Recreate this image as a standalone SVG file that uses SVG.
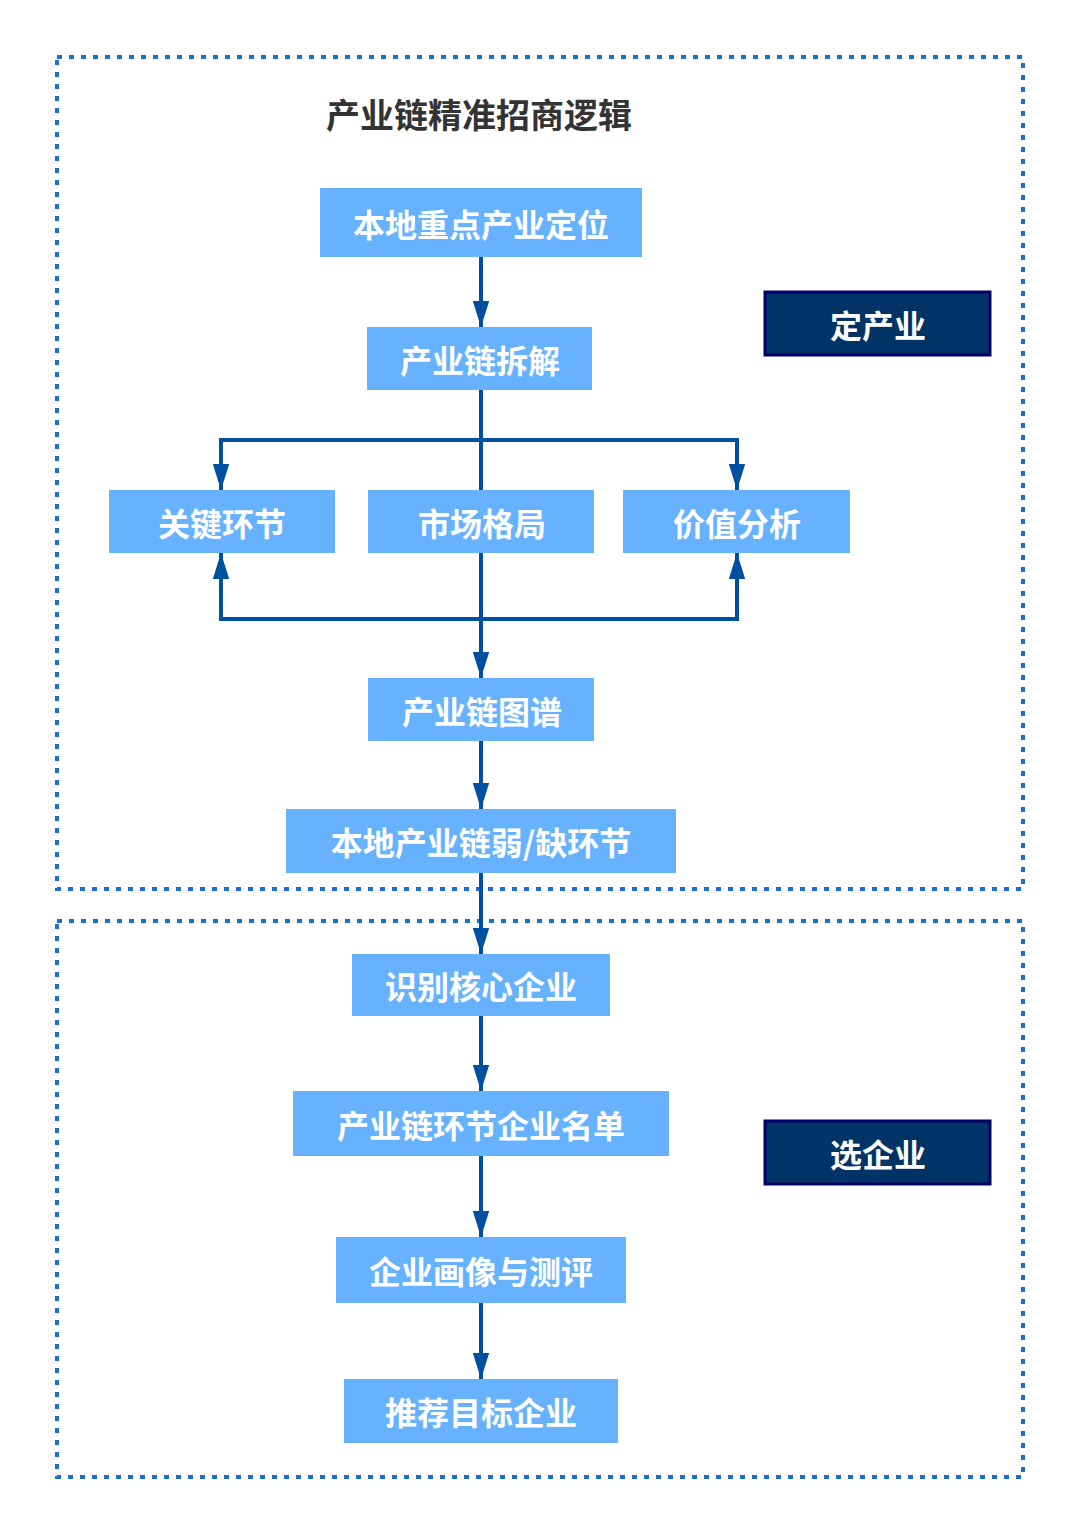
<svg xmlns="http://www.w3.org/2000/svg" width="1080" height="1533" viewBox="0 0 1080 1533">
<style>
.frame{fill:none;stroke:#1a6fd6;stroke-width:4;stroke-dasharray:5 7}
.box{fill:#66b2ff}
.dark{fill:#003366;stroke:#000066;stroke-width:3}
.t{font-family:"Noto Sans CJK SC","Noto Sans",sans-serif;font-weight:700;font-size:32px;fill:#fff;text-anchor:middle;dominant-baseline:central}
.title{font-family:"Noto Sans CJK SC","Noto Sans",sans-serif;font-weight:700;font-size:34px;fill:#333;text-anchor:middle;dominant-baseline:central}
.c{fill:none;stroke:#0050a0;stroke-width:4}
</style>
<defs>
<marker id="ah" markerUnits="userSpaceOnUse" markerWidth="26" markerHeight="40" refX="38" refY="12" viewBox="0 0 38 24" orient="auto">
<polygon points="0,0 38,12 0,24" fill="#0050a0"/>
</marker>
</defs>
<rect class="frame" x="57" y="57" width="966" height="832"/>
<rect class="frame" x="57" y="921" width="966" height="556"/>
<text class="title" x="479" y="113">产业链精准招商逻辑</text>
<g id="connectors">
<path class="c" d="M481 257V327" marker-end="url(#ah)"/>
<path class="c" d="M481 390V490"/>
<path class="c" d="M481 440H221V490" marker-end="url(#ah)"/>
<path class="c" d="M481 440H737V490" marker-end="url(#ah)"/>
<path class="c" d="M481 553V678" marker-end="url(#ah)"/>
<path class="c" d="M481 619H221V553" marker-end="url(#ah)"/>
<path class="c" d="M481 619H737V553" marker-end="url(#ah)"/>
<path class="c" d="M481 741V809" marker-end="url(#ah)"/>
<path class="c" d="M481 873V954" marker-end="url(#ah)"/>
<path class="c" d="M481 1016V1091" marker-end="url(#ah)"/>
<path class="c" d="M481 1156V1237" marker-end="url(#ah)"/>
<path class="c" d="M481 1303V1379" marker-end="url(#ah)"/>
</g>
<g id="n1"><rect class="box" x="320" y="188" width="322" height="69"/><text class="t" x="481" y="223">本地重点产业定位</text></g>
<g id="n2"><rect class="box" x="367" y="327" width="225" height="63"/><text class="t" x="480" y="359">产业链拆解</text></g>
<g id="n3"><rect class="box" x="109" y="490" width="226" height="63"/><text class="t" x="222" y="522">关键环节</text></g>
<g id="n4"><rect class="box" x="368" y="490" width="226" height="63"/><text class="t" x="482" y="522">市场格局</text></g>
<g id="n5"><rect class="box" x="623" y="490" width="227" height="63"/><text class="t" x="737" y="522">价值分析</text></g>
<g id="n6"><rect class="box" x="368" y="678" width="226" height="63"/><text class="t" x="482" y="710">产业链图谱</text></g>
<g id="n7"><rect class="box" x="286" y="809" width="390" height="64"/><text class="t" x="481" y="841">本地产业链弱/缺环节</text></g>
<g id="n8"><rect class="box" x="352" y="954" width="258" height="62"/><text class="t" x="481" y="985">识别核心企业</text></g>
<g id="n9"><rect class="box" x="293" y="1091" width="376" height="65"/><text class="t" x="481" y="1124">产业链环节企业名单</text></g>
<g id="n10"><rect class="box" x="336" y="1237" width="290" height="66"/><text class="t" x="481" y="1270">企业画像与测评</text></g>
<g id="n11"><rect class="box" x="344" y="1379" width="274" height="64"/><text class="t" x="481" y="1411">推荐目标企业</text></g>
<g id="d1"><rect class="dark" x="765" y="292" width="225" height="63"/><text class="t" x="878" y="324">定产业</text></g>
<g id="d2"><rect class="dark" x="765" y="1121" width="225" height="63"/><text class="t" x="878" y="1153">选企业</text></g>
</svg>
